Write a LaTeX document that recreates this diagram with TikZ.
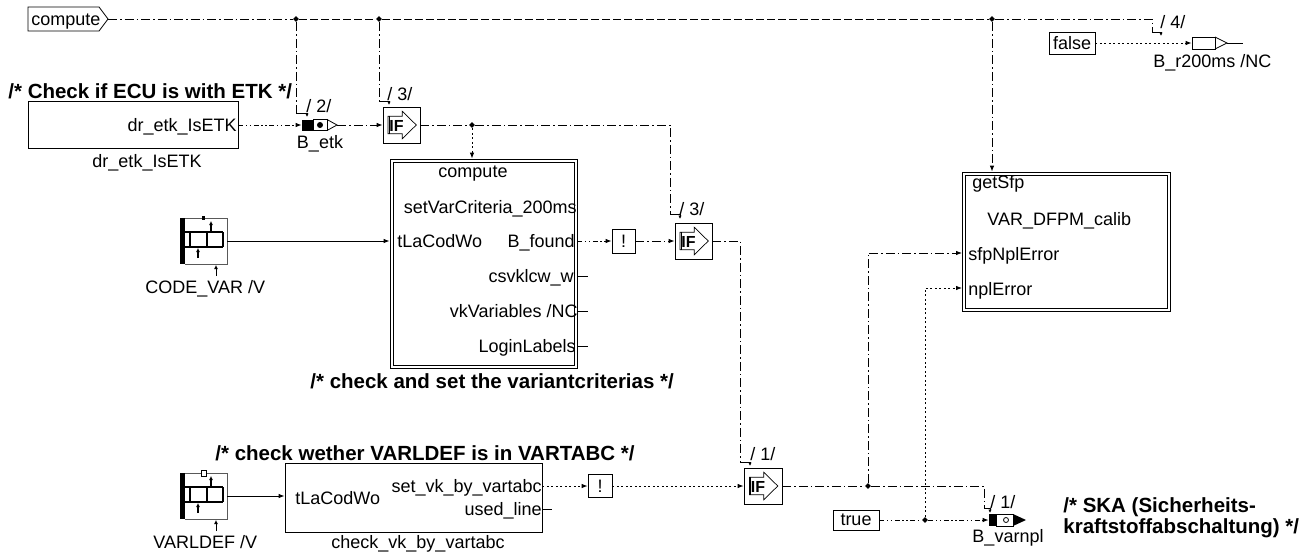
\documentclass[tikz,border=0pt]{standalone}
\usepackage{fontspec}
\setmainfont{Liberation Sans}
\usetikzlibrary{arrows.meta,shapes.geometric}
\newcommand\ifsym[1]{%
 \begin{scope}[shift={(#1.center)}]
  \draw[line width=0.7pt] (-13.5,-8.7) -- (0.8,-8.7) -- (0.8,-13.7) -- (14.8,0) -- (0.8,13.7) -- (0.8,8.7) -- (-13.5,8.7) -- cycle;
  \draw[line width=1.2pt] (-12.3,-8.7) -- (-12.3,8.7);
  \node[font=\fontsize{16}{16}\selectfont\bfseries,inner sep=0pt] at (-5,0.5) {IF};
 \end{scope}}
\newcommand\mychar[2]{%
 \begin{scope}[shift={(#1,#2)}]
  \fill (0,0) rectangle (5,46);
  \draw[black!65,line width=0.8pt] (5,0) -- (47,0) -- (47,46) -- (5,46);
  \draw[line width=1.6pt] (5,14) -- (43,14) (5,29) -- (43,29);
  \draw[line width=1.6pt] (10,14) -- (10,29) (27,14) -- (27,29) (43,14) -- (43,29);
  \draw[-{Latex[length=4pt,width=4pt]},line width=1.2pt] (31,14) -- (31,3);
  \draw[-{Latex[length=4pt,width=4pt]},line width=1.2pt] (18,40) -- (18,30);
  \draw[-{Latex[length=4pt,width=4pt]}] (36,58) -- (36,47);
 \end{scope}}
\begin{document}
\begin{tikzpicture}[x=1pt,y=-1pt,line width=0.8pt,
 reg/.style={font=\fontsize{18}{20}\selectfont,inner sep=0pt},
 ttl/.style={font=\fontsize{20.5}{23}\selectfont\bfseries,inner sep=0pt},
 blk/.style={draw,inner sep=0pt,fill=white},
 arr/.style={-{Latex[length=6pt,width=4.5pt]}},
 hk/.style={solid,-{Latex[length=3.5pt,width=3.5pt]}},
 dd/.style={dash pattern=on 9pt off 3pt on 1.5pt off 3pt},
 dsh/.style={dash pattern=on 8pt off 3pt},
 dt/.style={dash pattern=on 2pt off 2.5pt},
 ddd/.style={dash pattern=on 5pt off 2.5pt on 1.5pt off 2.5pt on 1.5pt off 2.5pt},
 jn/.style={diamond,fill,inner sep=0pt,minimum size=6pt},
 sym/.style={inner sep=0pt}]
\useasboundingbox (0,0) rectangle (1312,557);

% ---------- top compute line ----------
\draw (28,7) -- (99,7) -- (108,19) -- (99,31) -- (28,31) -- cycle;
\node[reg,anchor=base west] (cmpL) at (31,25) {compute};
\coordinate (cmp) at (108,19);
\node[jn] (j1) at (296,19) {};
\node[jn] (j2) at (379,19) {};
\node[jn] (j3) at (992,19) {};
\coordinate (tEnd) at (1152,19);
\draw[dd] (cmp) -- (j1);
\draw[dsh] (j1) -- (j2) -- (j3);
\draw[dd] (j3) -- (tEnd) -- (1152,32);
\draw[hk] (1152,32) -- (1161,32) -- (1161,36);
\node[reg,anchor=base west] (s4) at (1160,28) {/ 4/};

% false -> B_r200ms
\node[blk,reg,minimum width=46,minimum height=22] (fl) at (1072,43) {false};
\node[sym,minimum width=35,minimum height=12] (br) at (1209.5,43) {};
\draw (1192,37) rectangle (1215,49);
\draw (1215,37) -- (1227,43) -- (1215,49);
\draw (1227,43) -- (1243,43);
\draw[dt,arr] (fl.east) -- (br.west);
\node[reg,anchor=base west] (brL) at (1153,67) {B\_r200ms /NC};

% ---------- ETK check ----------
\node[ttl,anchor=base west] (t1) at (8,98) {/* Check if ECU is with ETK */};
\node[blk,minimum width=210,minimum height=47] (dr) at (133,124.5) {};
\node[reg,anchor=base east] (drP) at (237,131) {dr\_etk\_IsETK};
\node[reg,anchor=base] (drN) at (147,167) {dr\_etk\_IsETK};

\node[sym,minimum width=35,minimum height=11] (be) at (319.5,125) {};
\fill (302,119.5) rectangle (313,130.5);
\draw (313,119.5) rectangle (327,130.5);
\fill (320,125) circle (3pt);
\draw (327,119.5) -- (337,125) -- (327,130.5);
\node[reg,anchor=base] (beL) at (320,148) {B\_etk};
\draw[ddd,arr] (dr.east |- be.west) -- (be.west);
\draw[dd] (j1) -- (296,113);
\draw[hk] (296,113) -- (307,113) -- (307,117);
\node[reg,anchor=base west] (s2) at (306,112) {/ 2/};

\node[blk,minimum width=37,minimum height=36] (ifA) at (401.5,125) {};
\ifsym{ifA}
\draw[dd,arr] (be.east) -- (ifA.west);
\draw[dd] (j2) -- (379,101);
\draw[hk] (379,101) -- (389,101) -- (389,105);
\node[reg,anchor=base west] (s3a) at (387,100) {/ 3/};

% ---------- central block ----------
\node[blk,minimum width=187,minimum height=209] (blkC) at (483.5,263.5) {};
\draw (393,162) rectangle (574,365);
\node[reg,anchor=base] (cC) at (473,177) {compute};
\node[reg,anchor=base east] (cS) at (577,213) {setVarCriteria\_200ms};
\node[reg,anchor=base west] (cT) at (397,247) {tLaCodWo};
\node[reg,anchor=base east] (cB) at (575,247) {B\_found};
\node[reg,anchor=base east] (cW) at (574,282) {csvklcw\_w};
\node[reg,anchor=base east] (cV) at (578,317) {vkVariables /NC};
\node[reg,anchor=base east] (cL) at (576,352) {LoginLabels};
\draw (577,276) -- (588,276);
\draw (577,311) -- (588,311);
\draw (577,346) -- (588,346);
\node[ttl,anchor=base west] (t2) at (310,388) {/* check and set the variantcriterias */};

\node[jn] (j4) at (472,125) {};
\draw[dd] (ifA.east) -- (j4);
\draw[dt,arr] (j4) -- (j4 |- blkC.north);
\draw[dd] (j4) -- (670,125) -- (670,214);
\draw[hk] (670,214) -- (680,214) -- (680,219);
\node[reg,anchor=base west] (s3b) at (679,215) {/ 3/};

% CODE_VAR
\mychar{180}{218}
\fill (202,216) rectangle (205,220);
\node[sym,minimum width=47,minimum height=46] (cv) at (203.5,241) {};
\node[reg,anchor=base west] (cvL) at (145,293) {CODE\_VAR /V};
\draw[arr] (cv.east) -- (blkC.west |- cv.east);

% ! and IF 2
\node[blk,reg,minimum width=23,minimum height=24] (b1) at (623.5,241) {!};
\draw[ddd,arr] (blkC.east |- b1.west) -- (b1.west);
\node[blk,minimum width=37,minimum height=36] (ifB) at (693.5,241) {};
\ifsym{ifB}
\draw[dd,arr] (b1.east) -- (ifB.west);
\draw[dd] (ifB.east) -- (740,241) -- (740,462);
\draw[hk] (740,462) -- (750,462) -- (750,466);
\node[reg,anchor=base west] (s1a) at (750,460) {/ 1/};

% ---------- getSfp block ----------
\node[blk,minimum width=208,minimum height=139] (gs) at (1066,241.5) {};
\draw (965,175) rectangle (1167,308);
\node[reg,anchor=base west] (gG) at (972,188) {getSfp};
\node[reg,anchor=base west] (gV) at (987,225) {VAR\_DFPM\_calib};
\node[reg,anchor=base west] (gS) at (968,260) {sfpNplError};
\node[reg,anchor=base west] (gN) at (968,295) {nplError};
\coordinate (gsA) at (962,253);
\coordinate (gsB) at (962,288);
\draw[dd,arr] (j3) -- (j3 |- gs.north);

% ---------- bottom ----------
\node[ttl,anchor=base west] (t3) at (215,460) {/* check wether VARLDEF is in VARTABC */};
\node[blk,minimum width=257,minimum height=69] (ck) at (413.5,497.5) {};
\node[reg,anchor=base west] (kT) at (295,504) {tLaCodWo};
\node[reg,anchor=base east] (kS) at (542,492) {set\_vk\_by\_vartabc};
\node[reg,anchor=base east] (kU) at (542,515) {used\_line};
\draw (542,509) -- (552,509);
\node[reg,anchor=base] (kN) at (418,548) {check\_vk\_by\_vartabc};

\mychar{180}{473}
\draw[fill=white,line width=0.7pt] (201,470) rectangle (206,476);
\node[sym,minimum width=47,minimum height=46] (vl) at (203.5,496) {};
\node[reg,anchor=base west] (vlL) at (153,548) {VARLDEF /V};
\draw[arr] (vl.east) -- (ck.west |- vl.east);

\node[blk,reg,minimum width=24,minimum height=23] (b2) at (600,486) {!};
\draw[dt,arr] (ck.east |- b2.west) -- (b2.west);
\node[blk,minimum width=38,minimum height=36] (ifC) at (763,486) {};
\ifsym{ifC}
\draw[dt,arr] (b2.east) -- (ifC.west);

\node[jn] (j5) at (868,486) {};
\draw[dd] (ifC.east) -- (j5);
\draw[dd,arr] (j5) -- (868,253) -- (gsA);
\draw[dd] (j5) -- (984,486) -- (984,508);
\draw[hk] (984,508) -- (990,508) -- (990,513);
\node[reg,anchor=base west] (s1b) at (990,508) {/ 1/};

\node[blk,reg,minimum width=46,minimum height=20] (tr) at (856,520) {true};
\node[jn] (j6) at (925,520) {};
\node[sym,minimum width=37,minimum height=12] (bv) at (1007.5,520) {};
\fill (989,514) rectangle (996,526);
\draw (996,514) rectangle (1013,526);
\draw (1006,520) circle (2.5pt);
\fill (1013,514) -- (1026,520) -- (1013,526) -- cycle;
\node[reg,anchor=base] (bvL) at (1008,542) {B\_varnpl};
\draw[ddd] (tr.east) -- (j6);
\draw[ddd,arr] (j6) -- (bv.west);
\draw[dt,arr] (j6) -- (925,288) -- (gsB);

\node[ttl,anchor=base west] (t4a) at (1063,512) {/* SKA (Sicherheits-};
\node[ttl,anchor=base west] (t4b) at (1063,533) {kraftstoffabschaltung) */};
\end{tikzpicture}
\end{document}
